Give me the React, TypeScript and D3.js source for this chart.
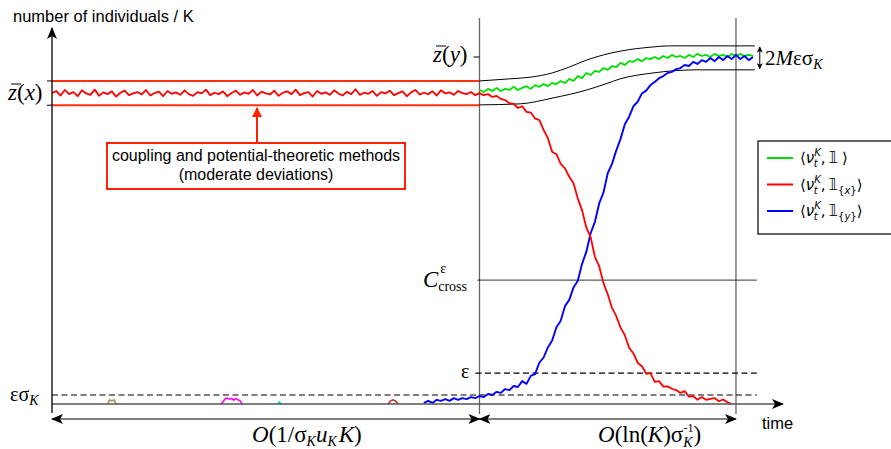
import React from "react";
import * as d3 from "d3";

// time in arbitrary units, population in units of K
const phaseTimes = [0, 100, 160];
const timeMax = 171;
const bandLevels = [0.931, 0.861]; // z(x) +/- band
const zyLevel = 1.0;
const epsSigmaLevel = 0.026;
const epsLevel = 0.089;
const crossLevel = 0.357;

const redStart = 0;
const redValues = [
  0.896, 0.902, 0.889, 0.905, 0.893, 0.899, 0.887, 0.904, 0.895, 0.891,
  0.906, 0.888, 0.898, 0.893, 0.901, 0.886, 0.897, 0.903, 0.890, 0.895,
  0.899, 0.892, 0.905, 0.889, 0.896, 0.900, 0.887, 0.902, 0.894, 0.898,
  0.891, 0.904, 0.893, 0.888, 0.899, 0.895, 0.906, 0.890, 0.897, 0.893,
  0.901, 0.887, 0.896, 0.903, 0.891, 0.898, 0.894, 0.905, 0.889, 0.900,
  0.895, 0.892, 0.903, 0.888, 0.897, 0.901, 0.893, 0.906, 0.890, 0.896,
  0.899, 0.886, 0.902, 0.894, 0.898, 0.891, 0.904, 0.895, 0.889, 0.900,
  0.893, 0.907, 0.891, 0.897, 0.894, 0.902, 0.888, 0.899, 0.895, 0.903,
  0.890, 0.896, 0.901, 0.887, 0.898, 0.905, 0.892, 0.897, 0.893, 0.901,
  0.889, 0.904, 0.895, 0.898, 0.891, 0.902, 0.896, 0.893, 0.899, 0.890,
  0.896,
  0.890, 0.893, 0.885, 0.888, 0.879, 0.876, 0.867, 0.865, 0.853, 0.858,
  0.842, 0.840, 0.823, 0.818, 0.790, 0.766, 0.727, 0.720, 0.692, 0.679,
  0.655, 0.636, 0.592, 0.558, 0.508, 0.481, 0.424, 0.397, 0.349, 0.316,
  0.277, 0.253, 0.220, 0.198, 0.162, 0.146, 0.119, 0.109, 0.087, 0.089,
  0.064, 0.066, 0.050, 0.051, 0.044, 0.040, 0.032, 0.037, 0.021, 0.023,
  0.012, 0.020, 0.012, 0.015, 0.017, 0.008, 0.013, 0.005, 0.000,
];

const greenStart = 100;
const greenValues = [
  0.905, 0.899, 0.908, 0.902, 0.911, 0.902, 0.908, 0.905, 0.914, 0.905,
  0.911, 0.916, 0.908, 0.919, 0.914, 0.922, 0.916, 0.925, 0.922, 0.931,
  0.925, 0.937, 0.931, 0.945, 0.939, 0.954, 0.948, 0.960, 0.957, 0.968,
  0.963, 0.974, 0.971, 0.983, 0.977, 0.988, 0.986, 0.994, 0.988, 0.997,
  0.994, 1.000, 0.994, 1.003, 0.997, 1.006, 1.000, 1.003, 0.997, 1.006,
  1.000, 1.009, 1.003, 1.006, 1.000, 1.009, 1.003, 1.006, 1.000, 1.009,
  1.003, 1.009, 1.003, 1.006, 1.003,
];

const blueStart = 87;
const blueValues = [
  0.003, 0.009, 0.003, 0.012, 0.009, 0.014, 0.009, 0.017, 0.012, 0.017,
  0.014, 0.020, 0.017, 0.023, 0.020, 0.029, 0.026, 0.035, 0.032, 0.043,
  0.040, 0.052, 0.049, 0.066, 0.058, 0.081, 0.086, 0.119, 0.134, 0.163,
  0.183, 0.221, 0.240, 0.282, 0.300, 0.336, 0.355, 0.404, 0.439, 0.492,
  0.525, 0.578, 0.609, 0.665, 0.692, 0.731, 0.764, 0.806, 0.828, 0.858,
  0.871, 0.895, 0.903, 0.919, 0.928, 0.939, 0.945, 0.954, 0.957, 0.965,
  0.968, 0.977, 0.974, 0.986, 0.980, 0.991, 0.986, 0.997, 0.988, 1.000,
  0.991, 1.003, 0.994, 1.006, 0.994, 1.003, 0.991, 1.000,
];

// smooth envelope around the invading trait
const envUpperT = [100, 107, 112, 117, 121, 125, 129, 133, 140.6, 144, 164.4];
const envUpperV = [0.931, 0.937, 0.942, 0.954, 0.971, 0.991, 1.006, 1.017, 1.029, 1.032, 1.032];
const envLowerT = [100, 109.5, 117.2, 125.1, 129.4, 132.9, 140.6, 150.9, 164.4];
const envLowerV = [0.862, 0.865, 0.882, 0.905, 0.922, 0.937, 0.954, 0.963, 0.963];

// failed mutant excursions near zero
const bumpColors = ["#a09848", "#ff00ff", "#00d8d8", "#c83232"];
const bumpTimes = [
  [13, 13.5, 14, 14.5, 15],
  [39.5, 40, 40.5, 41, 41.5, 42, 42.5, 43, 43.5, 44, 44.5],
  [52.8, 53.2, 53.6],
  [78.6, 79.2, 79.8, 80.4, 81],
];
const bumpValues = [
  [0, 0.012, 0.009, 0.012, 0],
  [0, 0.006, 0.015, 0.017, 0.014, 0.016, 0.011, 0.016, 0.012, 0.009, 0],
  [0, 0.006, 0],
  [0, 0.009, 0.012, 0.008, 0],
];

const legendColors = ["#00e000", "#ff0000", "#0000ff"];
const legendSubs = ["", "x", "y"];

const SERIF = "'Liberation Serif', 'DejaVu Serif', serif";
const SANS = "'Liberation Sans', Arial, sans-serif";

export default function App() {
  const x = d3.scaleLinear().domain([0, timeMax]).range([52, 783]);
  const y = d3.scaleLinear().domain([0, 1]).range([404, 57]);

  const line = d3
    .line<[number, number]>()
    .x((d) => x(d[0]))
    .y((d) => y(d[1]));
  const smooth = d3
    .line<[number, number]>()
    .x((d) => x(d[0]))
    .y((d) => y(d[1]))
    .curve(d3.curveMonotoneX);

  const pts = (start: number, vals: number[]) =>
    vals.map((v, i) => [start + i, v] as [number, number]);
  const zip = (ts: number[], vs: number[]) =>
    ts.map((t, i) => [t, vs[i]] as [number, number]);

  const x0 = x(phaseTimes[0]);
  const x1 = x(phaseTimes[1]);
  const x2 = x(phaseTimes[2]);
  const xEnd = x(164.4) + 2;
  const y0 = y(0);

  return (
    <svg
      width={891}
      height={449}
      style={{ position: "absolute", left: 0, top: 0, background: "#fff" }}
    >
      <defs>
        <marker id="head" viewBox="0 0 12 10" refX="11" refY="5" markerWidth="12" markerHeight="10"
          markerUnits="userSpaceOnUse" orient="auto-start-reverse">
          <path d="M0,0 L12,5 L0,10 L3,5 z" fill="#000" />
        </marker>
        <marker id="headSmall" viewBox="0 0 8 8" refX="7.5" refY="4" markerWidth="6" markerHeight="6"
          markerUnits="userSpaceOnUse" orient="auto-start-reverse">
          <path d="M0,0 L8,4 L0,8 L2,4 z" fill="#000" />
        </marker>
        <marker id="headRed" viewBox="0 0 10 10" refX="9" refY="5" markerWidth="10" markerHeight="10"
          markerUnits="userSpaceOnUse" orient="auto">
          <path d="M0,0 L10,5 L0,10 z" fill="#ff2200" />
        </marker>
      </defs>

      {/* axis title */}
      <text x={13} y={22} fontFamily={SANS} fontSize={16.5} fill="#000">
        number of individuals / K
      </text>

      {/* phase separators */}
      <line x1={x1} x2={x1} y1={18} y2={414} stroke="#666" strokeWidth={1.3} />
      <line x1={x2} x2={x2} y1={18} y2={414} stroke="#666" strokeWidth={1.3} />

      {/* threshold lines */}
      <line x1={x0} x2={xEnd} y1={y(epsSigmaLevel)} y2={y(epsSigmaLevel)} stroke="#000" strokeWidth={1.1} strokeDasharray="6,3.5" />
      <line x1={x1 - 4} x2={xEnd} y1={y(epsLevel)} y2={y(epsLevel)} stroke="#000" strokeWidth={1.1} strokeDasharray="6,3.5" />
      <line x1={x1 - 2} x2={xEnd} y1={y(crossLevel)} y2={y(crossLevel)} stroke="#000" strokeWidth={0.8} />

      {/* red band for the resident */}
      {bandLevels.map((v, i) => (
        <line key={i} x1={x0} x2={x1} y1={y(v)} y2={y(v)} stroke="#ff3010" strokeWidth={2} />
      ))}
      {bandLevels.map((v, i) => (
        <line key={"t" + i} x1={x0 - 5} x2={x0} y1={y(v)} y2={y(v)} stroke="#000" />
      ))}
      <line x1={x1 - 6} x2={x1} y1={y(zyLevel)} y2={y(zyLevel)} stroke="#000" />

      {/* envelope */}
      <path d={smooth(zip(envUpperT, envUpperV)) || ""} fill="none" stroke="#000" strokeWidth={1} />
      <path d={smooth(zip(envLowerT, envLowerV)) || ""} fill="none" stroke="#000" strokeWidth={1} />
      <line x1={xEnd + 3} x2={xEnd + 3} y1={y(1.032) + 1} y2={y(0.963) - 1} stroke="#000"
        markerStart="url(#headSmall)" markerEnd="url(#headSmall)" />

      {/* trajectories */}
      {bumpColors.map((c, i) => (
        <path key={c} d={line(zip(bumpTimes[i], bumpValues[i])) || ""} fill="none" stroke={c} strokeWidth={1.6} />
      ))}
      <path d={line(pts(greenStart, greenValues)) || ""} fill="none" stroke={legendColors[0]} strokeWidth={1.8} strokeLinejoin="round" />
      <path d={line(pts(blueStart, blueValues)) || ""} fill="none" stroke={legendColors[2]} strokeWidth={1.9} strokeLinejoin="round" />
      <path d={line(pts(redStart, redValues)) || ""} fill="none" stroke={legendColors[1]} strokeWidth={1.8} strokeLinejoin="round" />

      {/* axes */}
      <line x1={x0} x2={x(timeMax)} y1={y0} y2={y0} stroke="#555" strokeWidth={1.3} markerEnd="url(#head)" />
      <line x1={x0} x2={x0} y1={413} y2={28} stroke="#000" strokeWidth={1.3} markerEnd="url(#head)" />
      <text x={762} y={429} fontFamily={SANS} fontSize={16.5}>time</text>

      {/* duration arrows */}
      <line x1={x0} x2={x1} y1={419} y2={419} stroke="#000" markerStart="url(#head)" markerEnd="url(#head)" />
      <line x1={x1} x2={x2} y1={419} y2={419} stroke="#000" markerStart="url(#head)" markerEnd="url(#head)" />

      {/* level labels */}
      <line x1={11} x2={21} y1={84} y2={84} stroke="#000" />
      <text x={8} y={100} fontFamily={SERIF} fontSize={23}>
        <tspan fontStyle="italic">z</tspan>(<tspan fontStyle="italic">x</tspan>)
      </text>
      <line x1={436} x2={446} y1={46} y2={46} stroke="#000" />
      <text x={433} y={62} fontFamily={SERIF} fontSize={23}>
        <tspan fontStyle="italic">z</tspan>(<tspan fontStyle="italic">y</tspan>)
      </text>
      <text x={423} y={287} fontFamily={SERIF} fontSize={23}>
        <tspan fontStyle="italic">C</tspan>
        <tspan fontSize={14} dx={2} dy={-14}>ε</tspan>
        <tspan fontSize={14} dx={-8} dy={18}>cross</tspan>
      </text>
      <text x={461} y={378} fontFamily={SERIF} fontSize={20}>ε</text>
      <text x={10} y={401} fontFamily={SERIF} fontSize={20}>
        εσ<tspan fontSize={14} fontStyle="italic" dy={4}>K</tspan>
      </text>
      <text x={765} y={65} fontFamily={SERIF} fontSize={21}>
        2<tspan fontStyle="italic">M</tspan>εσ<tspan fontSize={14} fontStyle="italic" dy={4}>K</tspan>
      </text>

      {/* duration labels */}
      <text x={252} y={442} fontFamily={SERIF} fontSize={23}>
        <tspan fontStyle="italic">O</tspan>(1/σ
        <tspan fontSize={14} fontStyle="italic" dy={4}>K</tspan>
        <tspan fontStyle="italic" dy={-4}>u</tspan>
        <tspan fontSize={14} fontStyle="italic" dy={4}>K</tspan>
        <tspan fontStyle="italic" dx={2} dy={-4}>K</tspan>)
      </text>

      <text x={598} y={442} fontFamily={SERIF} fontSize={23}>
        <tspan fontStyle="italic">O</tspan>(ln(<tspan fontStyle="italic">K</tspan>)σ
        <tspan fontSize={14} fontStyle="italic" dy={5}>K</tspan>
        <tspan fontSize={12} dx={-9} dy={-15}>-1</tspan>
        <tspan dy={10}>)</tspan>
      </text>

      {/* annotation */}
      <line x1={257} x2={257} y1={143} y2={108} stroke="#ff2200" strokeWidth={2} markerEnd="url(#headRed)" />
      <rect x={107} y={143} width={298} height={46} fill="#fff" stroke="#ff2200" strokeWidth={2} />
      <text x={256} y={161} textAnchor="middle" fontFamily={SANS} fontSize={16}>
        coupling and potential-theoretic methods
      </text>
      <text x={256} y={180} textAnchor="middle" fontFamily={SANS} fontSize={16}>
        (moderate deviations)
      </text>

      {/* legend */}
      <rect x={758} y={141} width={140} height={93} fill="#fff" stroke="#000" strokeWidth={1.2} />
      {legendColors.map((c, i) => {
        const cy = 158 + i * 26.5;
        const base = cy + 5;
        return (
          <g key={c} fontFamily="'DejaVu Sans', sans-serif">
            <line x1={767} x2={793} y1={cy} y2={cy} stroke={c} strokeWidth={2} />
            <text x={800} y={base} fontSize={15}>
              ⟨<tspan fontStyle="italic">ν</tspan>
              <tspan fontSize={10} fontStyle="italic" dy={-7}>K</tspan>
              <tspan fontSize={10} fontStyle="italic" dx={-7} dy={11}>t</tspan>
              <tspan dx={3} dy={-4}>,</tspan>
              <tspan dx={3}>𝟙</tspan>
              {legendSubs[i] ? (
                <>
                  <tspan fontSize={10} dy={4}>{"{"}</tspan>
                  <tspan fontSize={10} fontStyle="italic">{legendSubs[i]}</tspan>
                  <tspan fontSize={10}>{"}"}</tspan>
                  <tspan dy={-4}>⟩</tspan>
                </>
              ) : (
                <tspan dx={4}>⟩</tspan>
              )}
            </text>
          </g>
        );
      })}
    </svg>
  );
}
